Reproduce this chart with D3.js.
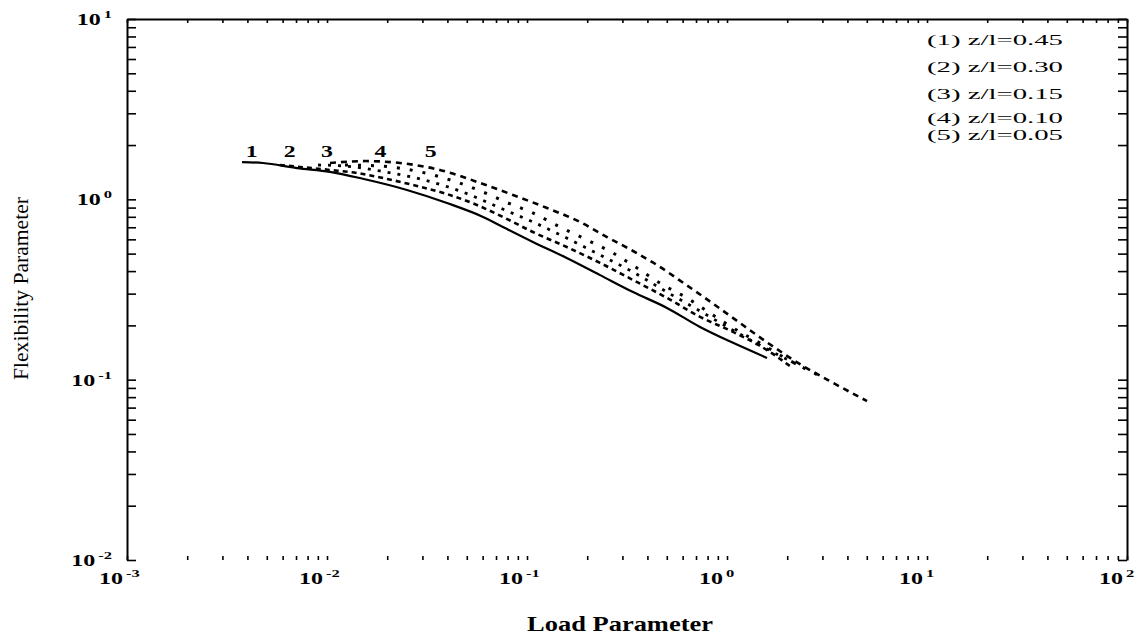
<!DOCTYPE html>
<html><head><meta charset="utf-8">
<script src="https://cdn.jsdelivr.net/npm/d3@7"></script>
<style>body{margin:0;background:#fff} svg{display:block;background:#fff}</style>
</head><body>
<svg id="chart" width="1146" height="636"></svg>
<script>
// ---------- data ----------
const curveNames = ["1", "2", "3", "4", "5"];
const legendLabels = ["(1) z/l=0.45", "(2) z/l=0.30", "(3) z/l=0.15", "(4) z/l=0.10", "(5) z/l=0.05"];
const xTickExponents = [-3, -2, -1, 0, 1, 2];
const yTickExponents = [-2, -1, 0, 1];
const xTitle = "Load Parameter";
const yTitle = "Flexibility Parameter";
// [load parameter, flexibility parameter]
const curve1 = [[0.00376,1.61],[0.00479,1.59],[0.00708,1.49],[0.01035,1.42],[0.0151,1.30],[0.0251,1.127],[0.0398,0.954],[0.0603,0.799],[0.0776,0.693],[0.107,0.580],[0.158,0.473],[0.232,0.380],[0.339,0.306],[0.501,0.250],[0.733,0.196],[1.072,0.160],[1.585,0.132]];
const curve2 = [[0.00582,1.55],[0.01035,1.455],[0.0141,1.40],[0.0200,1.297],[0.0282,1.186],[0.0398,1.070],[0.0562,0.930],[0.0776,0.788],[0.107,0.659],[0.158,0.544],[0.232,0.444],[0.339,0.357],[0.501,0.284],[0.733,0.223],[1.072,0.184],[1.585,0.146],[2.065,0.119]];
const curve3 = [[0.00902,1.55],[0.0123,1.53],[0.0184,1.436],[0.0292,1.297],[0.0462,1.112],[0.0776,0.872],[0.107,0.749],[0.158,0.610],[0.232,0.491],[0.339,0.395],[0.501,0.306],[0.733,0.240],[1.072,0.188],[1.585,0.148],[2.317,0.119]];
const curve4 = [[0.0123,1.55],[0.0184,1.53],[0.0292,1.42],[0.0462,1.23],[0.0653,1.057],[0.0776,0.970],[0.107,0.840],[0.146,0.703],[0.200,0.595],[0.269,0.504],[0.355,0.416],[0.479,0.335],[0.631,0.284],[0.851,0.228],[1.122,0.188],[1.514,0.156],[1.95,0.132],[2.851,0.106]];
const curve5 = [[0.01035,1.59],[0.0155,1.63],[0.0232,1.59],[0.0367,1.455],[0.0603,1.216],[0.0851,1.057],[0.126,0.895],[0.184,0.749],[0.251,0.618],[0.339,0.517],[0.447,0.432],[0.617,0.339],[0.776,0.284],[1.059,0.222],[1.549,0.164],[2.317,0.122],[3.199,0.0995],[5.012,0.0761]];
const curveLabelX = [0.0042, 0.0065, 0.0100, 0.0185, 0.0330]; // where the numbers 1..5 sit
const curveLabelY = 1.62;

// ---------- layout ----------
const L = 127, R = 1127, T = 19, B = 560;
const svg = d3.select("#chart");
const x = d3.scaleLog().domain([1e-3, 1e2]).range([L, R]);
const y = d3.scaleLog().domain([1e-2, 1e1]).range([B, T]);
const serif = "'Liberation Serif','Times New Roman',serif";

// ---------- frame & ticks ----------
const xt = x.ticks(), yt = y.ticks();
const gL = svg.append("g").attr("transform", `translate(${L},0)`)
  .call(d3.axisRight(y).tickValues(yt).tickSize(9).tickSizeOuter(0).tickFormat(""));
const gR = svg.append("g").attr("transform", `translate(${R},0)`)
  .call(d3.axisLeft(y).tickValues(yt).tickSize(9).tickSizeOuter(0).tickFormat(""));
const gT = svg.append("g").attr("transform", `translate(0,${T})`)
  .call(d3.axisBottom(x).tickValues(xt).tickSize(4).tickSizeOuter(0).tickFormat(""));
const gB = svg.append("g").attr("transform", `translate(0,${B})`)
  .call(d3.axisTop(x).tickValues(xt).tickSize(4).tickSizeOuter(0).tickFormat(""));
gB.select(".domain").remove();
[gL, gR, gT, gB].forEach(g => {
  g.selectAll("path,line").attr("stroke", "#000").attr("stroke-width", 1.6);
});
gL.select(".domain").attr("stroke-width", 2);
gR.select(".domain").attr("stroke-width", 2);
gT.select(".domain").attr("stroke-width", 1.8);

// ---------- tick labels ----------
const sup = e => (e < 0 ? "-" + Math.abs(e) : String(e));
xTickExponents.forEach(e => {
  const g = svg.append("g").attr("transform", `translate(${x(Math.pow(10, e)) - 28},584) scale(1.5,1)`);
  const t = g.append("text").attr("font-family", serif).attr("font-weight", "bold").attr("font-size", 16).attr("fill", "#000");
  t.append("tspan").text("10");
  t.append("tspan").attr("font-size", 11).attr("dx", 2).attr("dy", -7).text(sup(e));
});
yTickExponents.forEach(e => {
  const g = svg.append("g").attr("transform", `translate(112,${y(Math.pow(10, e)) + 6}) scale(1.5,1)`);
  const t = g.append("text").attr("font-family", serif).attr("font-weight", "bold").attr("font-size", 16)
    .attr("text-anchor", "end").attr("fill", "#000");
  t.append("tspan").text("10");
  t.append("tspan").attr("font-size", 11).attr("dx", 2).attr("dy", -7).text(sup(e));
});

// ---------- axis titles ----------
svg.append("text").attr("x", 527).attr("y", 631).attr("font-family", serif).attr("font-weight", "bold")
  .attr("font-size", 22).attr("textLength", 186).attr("lengthAdjust", "spacingAndGlyphs").attr("fill", "#000").text(xTitle);
svg.append("text").attr("transform", "translate(28,380) rotate(-90)").attr("font-family", serif)
  .attr("font-size", 22).attr("textLength", 183).attr("lengthAdjust", "spacingAndGlyphs").attr("fill", "#000").text(yTitle);

// ---------- curves ----------
const curves = [curve1, curve2, curve3, curve4, curve5];
const dash = [null, "5,4", "3,7", "3,10", "6,5"];
const widths = [2.2, 2.6, 2.8, 3, 2.6];
const line = d3.line().x(d => x(d[0])).y(d => y(d[1])).curve(d3.curveMonotoneX);
svg.append("g").selectAll("path").data(curves).join("path")
  .attr("d", line).attr("fill", "none").attr("stroke", "#000")
  .attr("stroke-width", (d, i) => widths[i])
  .attr("stroke-dasharray", (d, i) => dash[i]);

// ---------- curve numbers ----------
curveNames.forEach((n, i) => {
  svg.append("g").attr("transform", `translate(${x(curveLabelX[i])},${y(curveLabelY) - 5}) scale(1.4,1)`)
    .append("text").attr("text-anchor", "middle").attr("font-family", serif).attr("font-weight", "bold")
    .attr("font-size", 17).attr("fill", "#000").text(n);
});

// ---------- legend ----------
const legendBase = [45, 72, 99, 123, 140];
legendLabels.forEach((s, i) => {
  svg.append("text").attr("x", 927).attr("y", legendBase[i]).attr("font-family", serif)
    .attr("font-size", 15).attr("textLength", 136).attr("lengthAdjust", "spacingAndGlyphs")
    .attr("fill", "#000").text(s);
});
</script>
</body></html>
